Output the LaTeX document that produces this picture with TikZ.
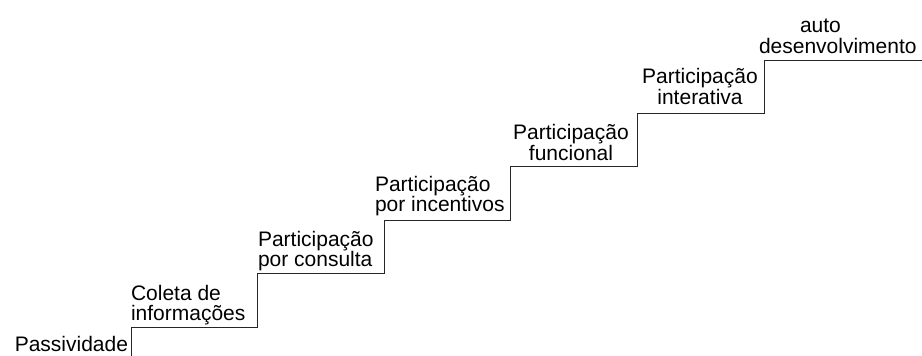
\documentclass[tikz,border=0pt]{standalone}
\usepackage{fontspec}
\setmainfont{Liberation Sans}
\newcommand\mylblfont{\fontsize{21}{20.5}\selectfont\lineskiplimit=-30pt\relax}
\begin{document}
\begin{tikzpicture}[x=1pt,y=-1pt,
  lbl/.style={inner sep=0pt, outer sep=0pt, font=\mylblfont},
  stair/.style={draw=black!85, line width=1pt, line join=miter}]
\useasboundingbox (0,0) rectangle (922,356);
% stair corners
\coordinate (s0) at (131,356);
\coordinate (a1) at (131,327);   \coordinate (b1) at (257.6,327);
\coordinate (a2) at (257.6,273.6); \coordinate (b2) at (384.2,273.6);
\coordinate (a3) at (384.2,220.2); \coordinate (b3) at (510.8,220.2);
\coordinate (a4) at (510.8,166.8); \coordinate (b4) at (637.4,166.8);
\coordinate (a5) at (637.4,113.4); \coordinate (b5) at (764,113.4);
\coordinate (a6) at (764,60);    \coordinate (b6) at (922,60);
\draw[stair] (s0) -- (a1) -- (b1) -- (a2) -- (b2) -- (a3) -- (b3) -- (a4) -- (b4) -- (a5) -- (b5) -- (a6) -- (b6);
% labels (base anchor = baseline of the last line)
\node[lbl, anchor=base east] (t0) at (128,351.5) {Passividade};
\node[lbl, anchor=base west, align=left] (t1) at (131,320.7) {Coleta de\\informações};
\node[lbl, anchor=base west, align=left] (t2) at (258,266.7) {Participação\\por consulta};
\node[lbl, anchor=base west, align=left] (t3) at (375,211.7) {Participação\\por incentivos};
\node[lbl, anchor=base, align=center] (t4) at (571,160) {Participação\\funcional};
\node[lbl, anchor=base, align=center] (t5) at (700,104) {Participação\\interativa};
\node[lbl, anchor=base west, align=left] (t6) at (759,53.3) {\hspace*{41pt}auto\\desenvolvimento};
\end{tikzpicture}
\end{document}
